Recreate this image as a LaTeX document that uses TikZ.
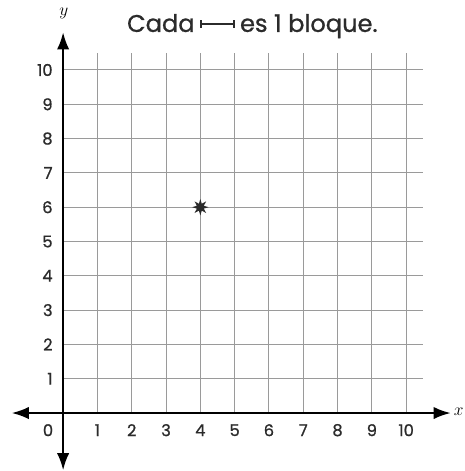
\documentclass[tikz,border=0pt]{standalone}
\usepackage{fontspec}
\setmainfont{Poppins}
\newfontfamily\lblfont{Poppins}[FakeBold=0.9]
\usetikzlibrary{arrows.meta,shapes.geometric}
\definecolor{gridgray}{HTML}{9A9A9A}
\definecolor{ink}{HTML}{2B2B2B}

\begin{document}
\begin{tikzpicture}[>={Latex[length=5mm,width=3.6mm]},
    gridline/.style={gridgray,line width=0.8pt},
    axisline/.style={<->,line width=1.8pt,black},
    ticklbl/.style={font=\lblfont\fontsize{13.5}{15}\selectfont,text=ink,inner sep=0pt},
    titlelbl/.style={font=\lblfont\fontsize{20}{24}\selectfont,text=ink,inner sep=0pt}]
  \useasboundingbox (-1.84,-1.69) rectangle (11.69,12.04);
  \draw[gridline] (0,0) grid (10.5,10.5);
  % axes
  \coordinate (xl) at (-1.5,0);
  \coordinate (xr) at (11.3,0);
  \coordinate (yb) at (0,-1.67);
  \coordinate (yt) at (0,11.1);
  \draw[axisline] (xl) -- (xr);
  \draw[axisline] (yb) -- (yt);
  \node[inner sep=0pt] (xlbl) at (11.53,0.05) {\Large$x$};
  \node[inner sep=0pt,anchor=base] (ylbl) at (0.02,11.6) {\Large$y$};
  \node[ticklbl] (zero) at (-0.44,-0.5) {0};
  \foreach \i in {1,...,10} {
    \node[ticklbl] (xt\i) at (\i,-0.5) {\i};
    \node[ticklbl,anchor=east] (yt\i) at (-0.3,\i) {\i};
  }
  % point
  \node[star,star points=8,star point ratio=2.2,fill=ink,minimum size=0.48cm,inner sep=0pt] (pt) at (4,6) {};
  % title
  \coordinate (bs) at (4,11.34);
  \coordinate (be) at (5,11.34);
  \draw[{Bar[width=2.3mm]}-{Bar[width=2.3mm]},line width=1pt,ink] (bs) -- (be);
  \node[titlelbl,anchor=base east] (cada) at (3.84,11.11) {Cada};
  \node[titlelbl,anchor=base west] (bloque) at (5.15,11.11) {es 1 bloque.};
\end{tikzpicture}
\end{document}
